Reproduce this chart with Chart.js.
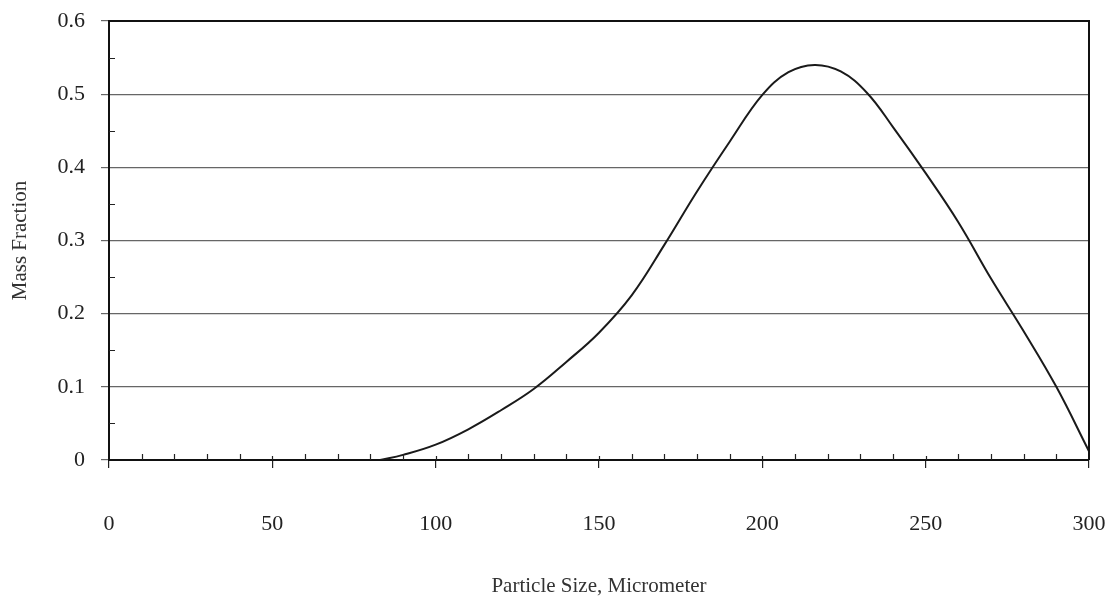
<!DOCTYPE html>
<html lang="en">
<head>
    <meta charset="UTF-8">
    <title>Mass Fraction vs Particle Size</title>
    <script src="https://cdn.jsdelivr.net/npm/chart.js"></script>
    <style>
        html, body { margin: 0; padding: 0; background: #fff; }
        #wrap { width: 1110px; height: 599px; }
    </style>
</head>
<body>
    <div id="wrap"><canvas id="myChart"></canvas></div>

    <script>
        // particle size (micrometer) and mass fraction
        const sizes = [83, 90, 100, 110, 120, 130, 140, 150, 160, 170, 180, 190, 200, 208, 216, 224, 232, 240, 250, 260, 270, 280, 290, 300];
        const fractions = [0, 0.007, 0.021, 0.042, 0.068, 0.097, 0.134, 0.174, 0.225, 0.294, 0.367, 0.435, 0.499, 0.53, 0.54, 0.531, 0.502, 0.455, 0.392, 0.325, 0.248, 0.176, 0.1, 0.012];

        const xTicks = [0, 50, 100, 150, 200, 250, 300];
        const yTicks = [0, 0.1, 0.2, 0.3, 0.4, 0.5, 0.6];
        const xMinorStep = 10;
        const yMinorStep = 0.05;

        const points = sizes.map((s, i) => ({ x: s, y: fractions[i] }));

        // small inside ticks + top/right frame
        const framePlugin = {
            id: 'frame',
            afterDraw(chart) {
                const { ctx, chartArea: a, scales: { x, y } } = chart;
                ctx.save();
                ctx.strokeStyle = '#222';
                ctx.lineWidth = 1.2;
                ctx.beginPath();
                for (let v = xMinorStep; v < xTicks[xTicks.length - 1]; v += xMinorStep) {
                    const px = Math.round(x.getPixelForValue(v)) + 0.5;
                    ctx.moveTo(px, a.bottom);
                    ctx.lineTo(px, a.bottom - (v % 50 === 0 ? 4 : 6));
                }
                for (let v = yMinorStep; v < yTicks[yTicks.length - 1]; v += 0.1) {
                    const py = Math.round(y.getPixelForValue(v)) + 0.5;
                    ctx.moveTo(a.left, py);
                    ctx.lineTo(a.left + 6, py);
                }
                ctx.stroke();
                ctx.lineWidth = 2;
                ctx.strokeStyle = '#111';
                ctx.beginPath();
                ctx.moveTo(a.left, a.top);
                ctx.lineTo(a.right, a.top);
                ctx.lineTo(a.right, a.bottom);
                ctx.stroke();
                ctx.restore();
            }
        };

        const ctx = document.getElementById('myChart').getContext('2d');
        const myChart = new Chart(ctx, {
            type: 'line',
            data: {
                datasets: [{
                    label: 'Mass Fraction',
                    data: points,
                    borderColor: '#1a1a1a',
                    borderWidth: 2,
                    pointRadius: 0,
                    fill: false,
                    tension: 0.4
                }]
            },
            options: {
                responsive: true,
                maintainAspectRatio: false,
                animation: false,
                layout: { padding: { top: 21, right: 21, left: 0, bottom: 0 } },
                plugins: {
                    legend: { display: false },
                    tooltip: { enabled: false }
                },
                scales: {
                    x: {
                        type: 'linear',
                        min: 0,
                        max: 300,
                        afterBuildTicks: s => { s.ticks = xTicks.map(v => ({ value: v })); },
                        afterFit: s => { s.height = 139; s.paddingLeft = 0; s.paddingRight = 0; },
                        grid: { drawOnChartArea: false, drawTicks: true, tickLength: 8, color: '#222', lineWidth: 1.2 },
                        border: { color: '#111', width: 2 },
                        ticks: {
                            padding: 43,
                            maxRotation: 0,
                            color: '#222',
                            font: { family: 'Liberation Serif', size: 22 }
                        },
                        title: {
                            display: true,
                            text: 'Particle Size, Micrometer',
                            color: '#333',
                            font: { family: 'Liberation Serif', size: 21 },
                            padding: { top: 0, bottom: 0 }
                        }
                    },
                    y: {
                        min: 0,
                        max: 0.6,
                        afterBuildTicks: s => { s.ticks = yTicks.map(v => ({ value: v })); },
                        afterFit: s => { s.width = 109; s.paddingTop = 0; s.paddingBottom = 0; },
                        grid: { color: '#666', lineWidth: 1.2, tickLength: 8 },
                        border: { color: '#111', width: 2 },
                        ticks: {
                            padding: 16,
                            color: '#222',
                            font: { family: 'Liberation Serif', size: 22 },
                            callback: v => v === 0 ? '0' : v.toFixed(1)
                        },
                        title: {
                            display: true,
                            text: 'Mass Fraction',
                            color: '#333',
                            font: { family: 'Liberation Serif', size: 21 },
                            padding: { top: 8, bottom: 0 }
                        }
                    }
                }
            },
            plugins: [framePlugin]
        });
    </script>
</body>
</html>
